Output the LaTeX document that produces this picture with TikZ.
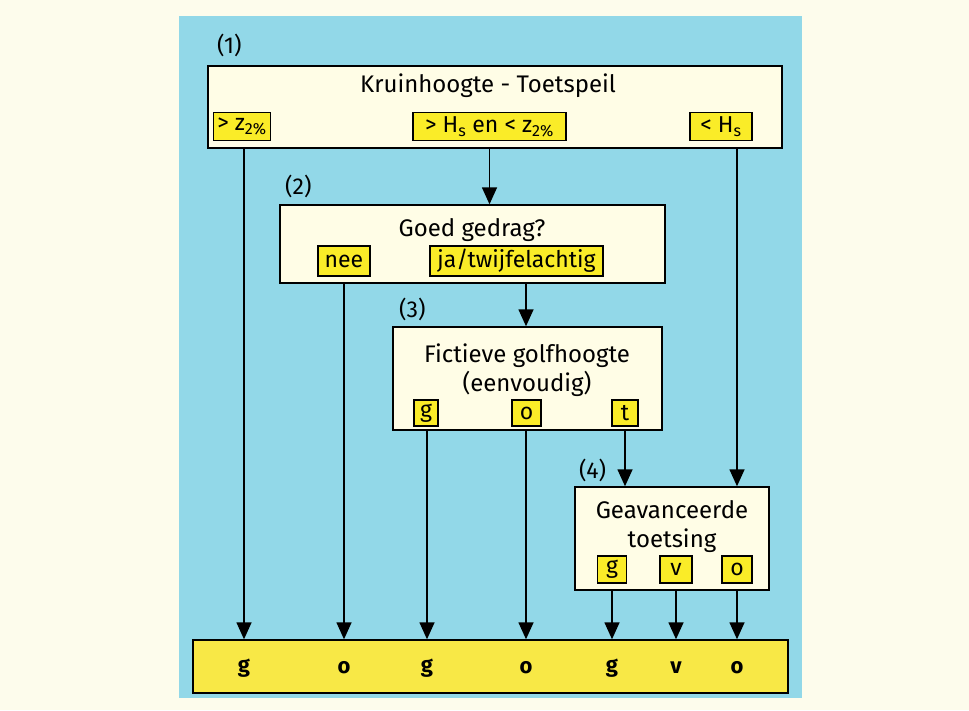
\documentclass[tikz,border=0pt]{standalone}
\usepackage{fontspec}
\setmainfont{Fira Sans}
\usetikzlibrary{arrows.meta}
\definecolor{pagecream}{RGB}{253,252,236}
\definecolor{panelblue}{RGB}{146,216,232}
\definecolor{boxcream}{RGB}{255,253,230}
\definecolor{tagyellow}{RGB}{250,236,40}
\definecolor{baryellow}{RGB}{248,232,70}
\tikzset{
  stepbox/.style={draw=black, line width=1.4pt, fill=boxcream, inner sep=0pt},
  tagbox/.style={draw=black, line width=1.2pt, fill=tagyellow, inner sep=0pt,
    font=\fontsize{23}{26}\selectfont},
  title/.style={align=center, font=\fontsize{24}{29}\selectfont, inner sep=0pt},
  numlabel/.style={anchor=base west, font=\fontsize{23}{26}\selectfont, inner sep=0pt},
  outcome/.style={font=\bfseries\fontsize{22}{26}\selectfont, inner sep=0pt},
  arr/.style={line width=1.5pt, -{Triangle[length=17pt,width=15pt]}},
}
\begin{document}
\begin{tikzpicture}[x=1pt,y=-1pt]
  % page and panel
  \fill[pagecream] (0,0) rectangle (969,710);
  \useasboundingbox (0,0) rectangle (969,710);
  \fill[panelblue] (179,16) rectangle (802,698);

  % step boxes
  \node[stepbox, minimum width=574pt, minimum height=82pt] (b1) at (495,107) {};
  \node[stepbox, minimum width=385pt, minimum height=78pt] (b2) at (472.5,244) {};
  \node[stepbox, minimum width=269pt, minimum height=103pt] (b3) at (527.5,378.5) {};
  \node[stepbox, minimum width=194pt, minimum height=103pt] (b4) at (672,538.5) {};
  \node[draw=black, line width=1.4pt, fill=baryellow, minimum width=595pt,
        minimum height=53pt] (bar) at (490.5,666.5) {};

  % step numbers
  \node[numlabel] (n1) at (217,53) {(1)};
  \node[numlabel] (n2) at (285,194) {(2)};
  \node[numlabel] (n3) at (399,317) {(3)};
  \node[numlabel] (n4) at (579,478) {(4)};

  % titles
  \node[title] (t1) at (488,86) {Kruinhoogte - Toetspeil};
  \node[title] (t2) at (472,230) {Goed gedrag?};
  \node[title] (t3) at (527,370) {Fictieve golfhoogte\\(eenvoudig)};
  \node[title] (t4) at (672,527) {Geavanceerde\\toetsing};

  % answer tags
  \node[tagbox, minimum width=57pt, minimum height=28pt] (a1) at (242,126.5) {> z\textsubscript{2\%}};
  \node[tagbox, minimum width=153pt, minimum height=28pt] (a2) at (489.5,126.5) {> H\textsubscript{s} en < z\textsubscript{2\%}};
  \node[tagbox, minimum width=62pt, minimum height=28pt] (a3) at (721,126.5) {< H\textsubscript{s}};

  \node[tagbox, minimum width=52pt, minimum height=30pt] (c1) at (344,261) {nee};
  \node[tagbox, minimum width=173pt, minimum height=30pt] (c2) at (516.5,261) {ja/twijfelachtig};

  \node[tagbox, minimum width=24pt, minimum height=26pt] (d1) at (426,413) {g};
  \node[tagbox, minimum width=29pt, minimum height=26pt] (d2) at (526.5,413) {o};
  \node[tagbox, minimum width=26pt, minimum height=26pt] (d3) at (625,413) {t};

  \node[tagbox, minimum width=29pt, minimum height=27pt] (e1) at (612,569.5) {g};
  \node[tagbox, minimum width=32pt, minimum height=27pt] (e2) at (676,569.5) {v};
  \node[tagbox, minimum width=30pt, minimum height=27pt] (e3) at (737,569.5) {o};

  % outcomes
  \node[outcome] (o1) at (244,668) {g};
  \node[outcome] (o2) at (344,668) {o};
  \node[outcome] (o3) at (427,668) {g};
  \node[outcome] (o4) at (526,668) {o};
  \node[outcome] (o5) at (612,668) {g};
  \node[outcome] (o6) at (676,668) {v};
  \node[outcome] (o7) at (737,668) {o};

  % connectors
  \draw[arr] (o1 |- b1.south) -- (o1 |- bar.north);
  \draw[arr] (a2.south |- b1.south) -- (a2.south |- b2.north);
  \draw[arr] (o7 |- b1.south) -- (o7 |- b4.north);

  \draw[arr] (c1.south |- b2.south) -- (c1.south |- bar.north);
  \draw[arr] (o4 |- b2.south) -- (o4 |- b3.north);

  \draw[arr] (o3 |- b3.south) -- (o3 |- bar.north);
  \draw[arr] (o4 |- b3.south) -- (o4 |- bar.north);
  \draw[arr] (d3.south |- b3.south) -- (d3.south |- b4.north);

  \draw[arr] (e1.south |- b4.south) -- (e1.south |- bar.north);
  \draw[arr] (e2.south |- b4.south) -- (e2.south |- bar.north);
  \draw[arr] (e3.south |- b4.south) -- (e3.south |- bar.north);
\end{tikzpicture}
\end{document}
